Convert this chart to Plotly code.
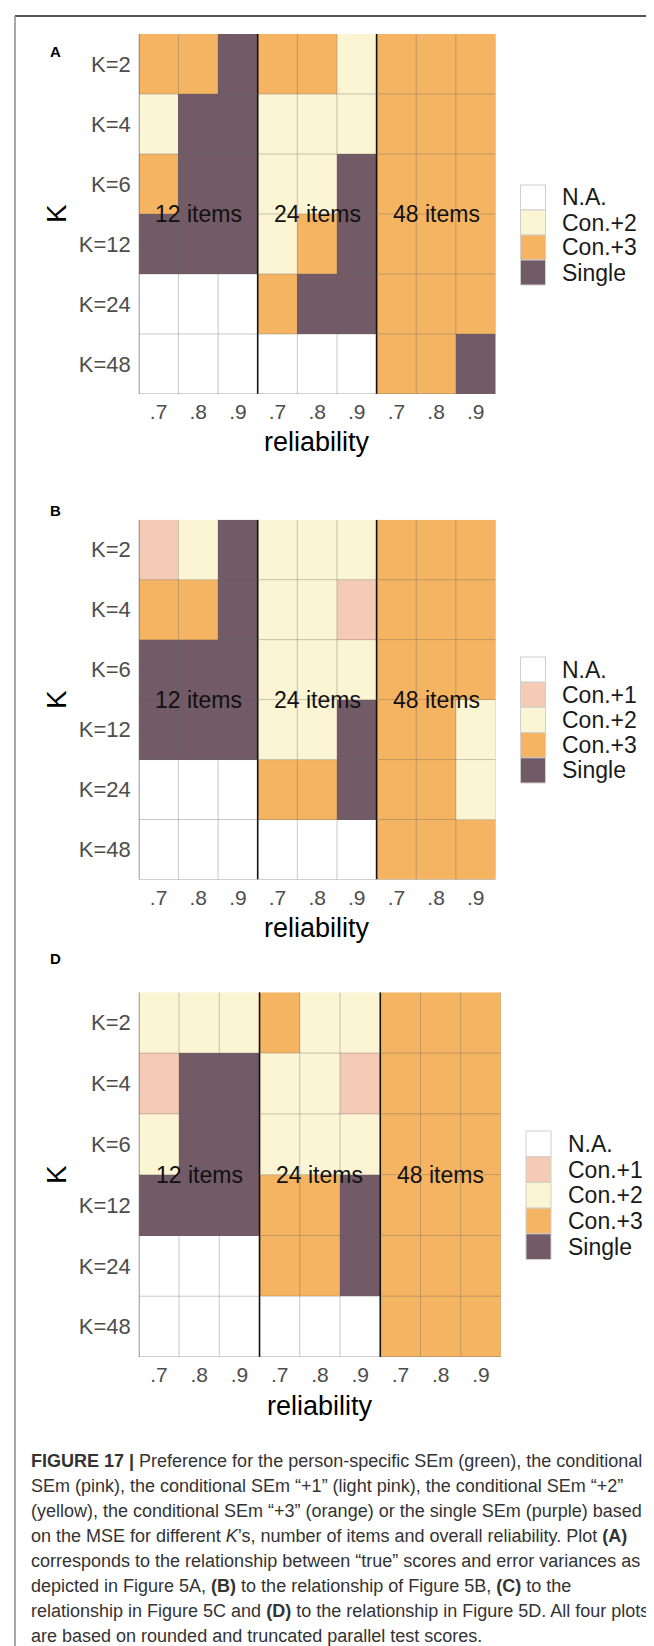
import plotly.graph_objects as go

# ---------------- data ----------------
K_LABELS = ["K=2", "K=4", "K=6", "K=12", "K=24", "K=48"]
REL_LABELS = [".7", ".8", ".9", ".7", ".8", ".9", ".7", ".8", ".9"]
ITEM_GROUPS = ["12 items", "24 items", "48 items"]
CATEGORIES = ["N.A.", "Con.+1", "Con.+2", "Con.+3", "Single"]
COLORS = ["#FFFFFF", "#F6CBB5", "#FBF5D3", "#F5B462", "#725A66"]

NA, C1, C2, C3, SG = CATEGORIES

PANEL_A = [
    [C3, C3, SG, C3, C3, C2, C3, C3, C3],
    [C2, SG, SG, C2, C2, C2, C3, C3, C3],
    [C3, SG, SG, C2, C2, SG, C3, C3, C3],
    [SG, SG, SG, C2, C3, SG, C3, C3, C3],
    [NA, NA, NA, C3, SG, SG, C3, C3, C3],
    [NA, NA, NA, NA, NA, NA, C3, C3, SG],
]
PANEL_B = [
    [C1, C2, SG, C2, C2, C2, C3, C3, C3],
    [C3, C3, SG, C2, C2, C1, C3, C3, C3],
    [SG, SG, SG, C2, C2, C2, C3, C3, C3],
    [SG, SG, SG, C2, C2, SG, C3, C3, C2],
    [NA, NA, NA, C3, C3, SG, C3, C3, C2],
    [NA, NA, NA, NA, NA, NA, C3, C3, C3],
]
PANEL_D = [
    [C2, C2, C2, C3, C2, C2, C3, C3, C3],
    [C1, SG, SG, C2, C2, C1, C3, C3, C3],
    [C2, SG, SG, C2, C2, C2, C3, C3, C3],
    [SG, SG, SG, C3, C3, SG, C3, C3, C3],
    [NA, NA, NA, C3, C3, SG, C3, C3, C3],
    [NA, NA, NA, NA, NA, NA, C3, C3, C3],
]
LEGEND_A = [NA, C2, C3, SG]
LEGEND_B = [NA, C1, C2, C3, SG]
LEGEND_D = [NA, C1, C2, C3, SG]
PANEL_LETTERS = ["A", "B", "D"]

CAPTION = [
    "<b>FIGURE 17 |</b> Preference for the person-specific SEm (green), the conditional",
    "SEm (pink), the conditional SEm \u201c+1\u201d (light pink), the conditional SEm \u201c+2\u201d",
    "(yellow), the conditional SEm \u201c+3\u201d (orange) or the single SEm (purple) based",
    "on the MSE for different <i>K</i>\u2019s, number of items and overall reliability. Plot <b>(A)</b>",
    "corresponds to the relationship between \u201ctrue\u201d scores and error variances as",
    "depicted in Figure 5A, <b>(B)</b> to the relationship of Figure 5B, <b>(C)</b> to the",
    "relationship in Figure 5C and <b>(D)</b> to the relationship in Figure 5D. All four plots",
    "are based on rounded and truncated parallel test scores.",
]

# ---------------- layout (pixels) ----------------
W, H = 654, 1646
FONT = "Liberation Sans, Arial, sans-serif"


def px(x):
    return x / W


def py(y):
    return 1 - y / H


PANELS = [
    dict(data=PANEL_A, legend=LEGEND_A, grid=(130.8, 26.0, 487.5, 386.0), letter=(47, 43),
         ktitle=(48, 206), reltitle=417, leg=(512.5, 537.5, 177.0, 25.0, 552)),
    dict(data=PANEL_B, legend=LEGEND_B, grid=(130.8, 511.7, 487.5, 871.5), letter=(47, 503),
         ktitle=(48, 692), reltitle=903, leg=(512.5, 537.5, 649.0, 25.2, 552)),
    dict(data=PANEL_D, legend=LEGEND_D, grid=(130.8, 984.3, 493.0, 1349.0), letter=(47, 950),
         ktitle=(48, 1167), reltitle=1381, leg=(518.0, 543.0, 1123.0, 25.7, 558)),
]

n_cat = len(CATEGORIES)
colorscale = [[i / (n_cat - 1), c] for i, c in enumerate(COLORS)]

fig = go.Figure()
shapes = []
annotations = []
layout_axes = {}

for p, (panel, letter) in enumerate(zip(PANELS, PANEL_LETTERS)):
    sfx = "" if p == 0 else str(p + 1)
    xa, ya = "x" + sfx, "y" + sfx
    rows = panel["data"]
    ncol, nrow = len(REL_LABELS), len(K_LABELS)
    z = [[CATEGORIES.index(c) for c in row] for row in rows]
    fig.add_trace(go.Heatmap(
        z=z, x=list(range(ncol)), y=list(range(nrow)),
        zmin=0, zmax=n_cat - 1, colorscale=colorscale, showscale=False,
        hoverinfo="skip", xaxis=xa, yaxis=ya,
    ))
    x0, y0, x1, y1 = panel["grid"]
    layout_axes["xaxis" + sfx] = dict(
        domain=[px(x0), px(x1)], anchor=ya, range=[-0.5, ncol - 0.5],
        tickmode="array", tickvals=list(range(ncol)), ticktext=REL_LABELS,
        showgrid=False, zeroline=False, showline=False, ticks="",
        ticklabelstandoff=3,
        tickfont=dict(family=FONT, size=21, color="#4D4D4D"), fixedrange=True,
    )
    layout_axes["yaxis" + sfx] = dict(
        domain=[py(y1), py(y0)], anchor=xa, range=[nrow - 0.5, -0.5],
        tickmode="array", tickvals=list(range(nrow)), ticktext=K_LABELS,
        showgrid=False, zeroline=False, showline=False, ticks="",
        ticklabelstandoff=7,
        tickfont=dict(family=FONT, size=22, color="#4D4D4D"), fixedrange=True,
    )
    # cell grid lines
    for i in range(ncol + 1):
        xv = i - 0.5
        if i in (3, 6):
            col, wid = "#111111", 1.6
        elif i == 0:
            col, wid = "#666666", 1.4
        else:
            col, wid = "rgba(100,100,100,0.35)", 1
        shapes.append(dict(type="line", xref=xa, yref=ya, x0=xv, x1=xv, y0=-0.5, y1=nrow - 0.5,
                           line=dict(color=col, width=wid), layer="above"))
    for j in range(1, nrow + 1):
        yv = j - 0.5
        col = "rgba(100,100,100,0.35)" if j < nrow else "rgba(100,100,100,0.6)"
        shapes.append(dict(type="line", xref=xa, yref=ya, x0=-0.5, x1=ncol - 0.5, y0=yv, y1=yv,
                           line=dict(color=col, width=1), layer="above"))
    # group labels
    for g, name in enumerate(ITEM_GROUPS):
        annotations.append(dict(text=name, xref=xa, yref=ya, x=g * 3 + 1, y=2.5,
                                showarrow=False, xanchor="center", yanchor="middle",
                                font=dict(family=FONT, size=23, color="#111111")))
    # panel letter
    lx, ly = panel["letter"]
    annotations.append(dict(text="<b>%s</b>" % letter, xref="paper", yref="paper",
                            x=px(lx), y=py(ly), showarrow=False, xanchor="center", yanchor="middle",
                            font=dict(family=FONT, size=15, color="#000000")))
    # axis titles
    kx, ky = panel["ktitle"]
    annotations.append(dict(text="K", xref="paper", yref="paper", x=px(kx), y=py(ky),
                            showarrow=False, textangle=-90, xanchor="center", yanchor="middle",
                            font=dict(family=FONT, size=28, color="#000000")))
    annotations.append(dict(text="reliability", xref="paper", yref="paper",
                            x=px((x0 + x1) / 2), y=py(panel["reltitle"]),
                            showarrow=False, xanchor="center", yanchor="top",
                            font=dict(family=FONT, size=27, color="#000000")))
    # legend (drawn as keys + labels)
    bx0, bx1, bt, bh, tx = panel["leg"]
    for k, cat in enumerate(panel["legend"]):
        top = bt + k * bh
        shapes.append(dict(type="rect", xref="paper", yref="paper",
                           x0=px(bx0), x1=px(bx1), y0=py(top + bh), y1=py(top),
                           fillcolor=COLORS[CATEGORIES.index(cat)],
                           line=dict(color="#CFCFCF", width=1)))
        annotations.append(dict(text=cat, xref="paper", yref="paper", x=px(tx), y=py(top + bh / 2),
                                showarrow=False, xanchor="left", yanchor="middle",
                                font=dict(family=FONT, size=23, color="#1A1A1A")))

# caption
for i, line in enumerate(CAPTION):
    annotations.append(dict(text=line, xref="paper", yref="paper", x=px(21), y=py(1453 + 25 * i),
                            showarrow=False, xanchor="left", yanchor="middle",
                            font=dict(family=FONT, size=18, color="#333333")))

# outer frame
shapes.append(dict(type="line", xref="paper", yref="paper", x0=px(7), x1=1, y0=py(8), y1=py(8),
                   line=dict(color="#555555", width=2)))
shapes.append(dict(type="line", xref="paper", yref="paper", x0=px(7), x1=px(7), y0=py(8), y1=0,
                   line=dict(color="#8A8A8A", width=1.5)))

fig.update_layout(
    width=W, height=H, margin=dict(l=0, r=0, t=0, b=0),
    paper_bgcolor="white", plot_bgcolor="white", showlegend=False,
    shapes=shapes, annotations=annotations, **layout_axes,
)

fig.write_html("out.html")
